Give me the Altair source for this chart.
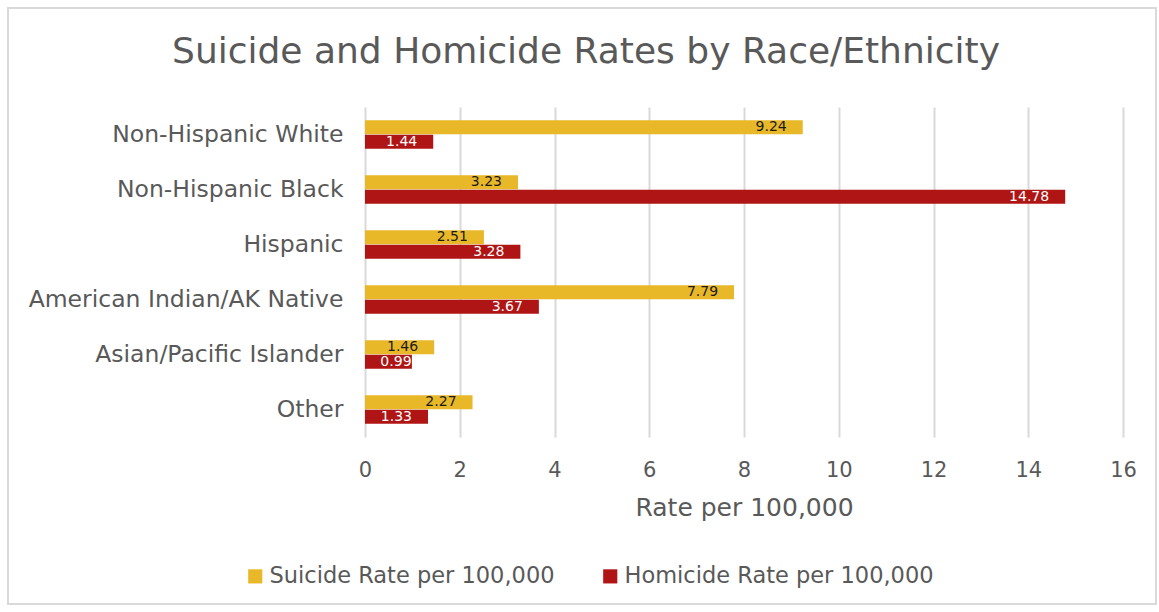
import altair as alt
import pandas as pd

categories = ["Non-Hispanic White", "Non-Hispanic Black", "Hispanic",
              "American Indian/AK Native", "Asian/Pacific Islander", "Other"]
suicide = [9.24, 3.23, 2.51, 7.79, 1.46, 2.27]
homicide = [1.44, 14.78, 3.28, 3.67, 0.99, 1.33]
series = ["Suicide Rate per 100,000", "Homicide Rate per 100,000"]
colors = ["#E8B828", "#AF1515"]
x_ticks = [0, 2, 4, 6, 8, 10, 12, 14, 16]

rows = []
for c, s, h in zip(categories, suicide, homicide):
    rows.append({"cat": c, "series": series[0], "value": s})
    rows.append({"cat": c, "series": series[1], "value": h})
df = pd.DataFrame(rows)

FONT = "DejaVu Sans"
GREY = "#595959"

y_enc = alt.Y("cat:N", sort=categories, title=None,
              scale=alt.Scale(paddingInner=0.48, paddingOuter=0.24),
              axis=alt.Axis(labelFontSize=23.5, labelColor=GREY, labelFont=FONT,
                            labelPadding=22, ticks=False, domain=False,
                            grid=False, labelLimit=400))
x_enc = alt.X("value:Q", scale=alt.Scale(domain=[0, 16], nice=False),
              title="Rate per 100,000",
              axis=alt.Axis(values=x_ticks, labelFontSize=21, labelColor=GREY,
                            labelFont=FONT, titleFont=FONT, titleFontSize=25,
                            titleColor=GREY, titleFontWeight="normal",
                            titlePadding=15, labelPadding=22, ticks=False,
                            labelFlush=False,
                            domain=False, grid=True, gridColor="#D9D9D9",
                            gridWidth=2))
yoff = alt.YOffset("series:N", sort=series)
color = alt.Color("series:N", sort=series,
                  scale=alt.Scale(domain=series, range=colors),
                  legend=alt.Legend(orient="none", direction="horizontal",
                                    legendX=-121, legendY=458, title=None,
                                    symbolType="square", symbolSize=200,
                                    symbolStrokeWidth=0,
                                    labelFontSize=22.5, labelColor=GREY,
                                    labelFont=FONT, columnPadding=44,
                                    labelOffset=3, labelLimit=400))

bars = alt.Chart(df).mark_bar(size=14).encode(y=y_enc, x=x_enc, yOffset=yoff, color=color)

labels = alt.Chart(df).transform_calculate(
    lx="max(datum.value, 1.32)"
).mark_text(align="right", baseline="middle", dx=-16,
            fontSize=14, font=FONT).encode(
    y=alt.Y("cat:N", sort=categories),
    x=alt.X("lx:Q"),
    yOffset=yoff,
    text=alt.Text("value:Q", format=".2f"),
    color=alt.Color("series:N", sort=series,
                    scale=alt.Scale(domain=series, range=["#1a1a1a", "#ffffff"]),
                    legend=None),
)

border = alt.Chart(pd.DataFrame({"a": [0]})).mark_rect(
    fill="transparent", stroke="#D9D9D9", strokeWidth=2).encode(
    x=alt.value(-357), x2=alt.value(791), y=alt.value(-99), y2=alt.value(497))

chart = alt.layer(border, bars, labels).resolve_scale(color="independent").properties(
    width=758, height=330,
    background="white",
    title=alt.TitleParams("Suicide and Homicide Rates by Race/Ethnicity",
                          fontSize=36, font=FONT, color=GREY,
                          fontWeight="normal", dx=-158, offset=-64,
                          anchor="middle"),
    padding={"left": 365, "top": 107, "right": 36, "bottom": 175},
    autosize=alt.AutoSizeParams(type="none"),
).configure_view(stroke="transparent", strokeWidth=0).configure_axis(domain=False)

chart.save("out.html", embed_options={"renderer": "svg", "actions": False})
